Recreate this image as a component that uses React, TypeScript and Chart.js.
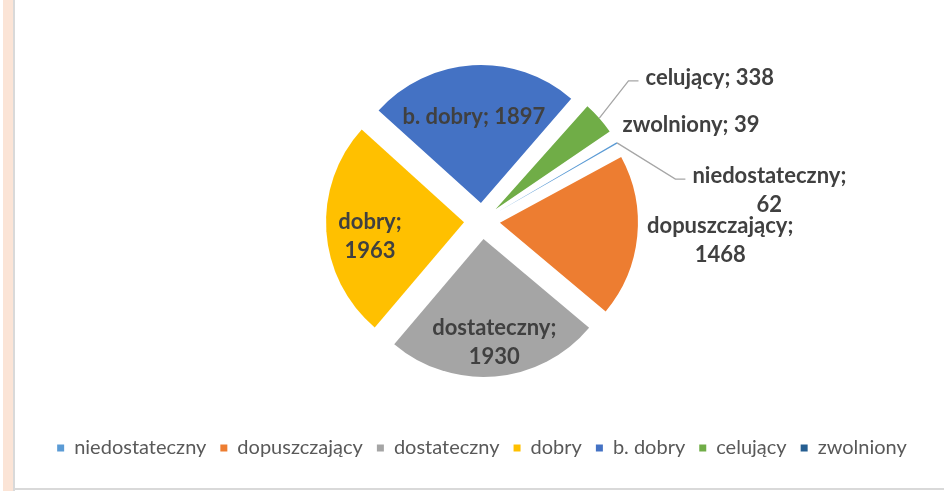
import React, { useEffect, useRef } from 'react';
import { Chart, registerables } from 'chart.js';

Chart.register(...registerables);

// ---- data ----
const categories = ['niedostateczny', 'dopuszczający', 'dostateczny', 'dobry', 'b. dobry', 'celujący', 'zwolniony'];
const counts = [62, 1468, 1930, 1963, 1897, 338, 39];

// ---- styles ----
const sliceColors = ['#5B9BD5', '#ED7D31', '#A5A5A5', '#FFC000', '#4472C4', '#70AD47', '#255E91'];
const PIE_RADIUS = 138;
const EXPLODE_PX = 18; // visible slice displacement
const ARC_OFFSET = EXPLODE_PX * 4; // chart.js translates arcs by offset / 4

// label placement relative to each slice: distance from the pie centre in outer-radius units,
// angular shift (deg) from the slice mid-angle, wrapping and leader line
const labelLayout = [
  { dist: 2.094, shift: 24, wrap: true, leader: true },
  { dist: 1.732, shift: -1, wrap: true, leader: false },
  { dist: 0.881, shift: -1, wrap: true, leader: false },
  { dist: 0.819, shift: -3.9, wrap: true, leader: false },
  { dist: 0.756, shift: -1, wrap: false, leader: false },
  { dist: 1.949, shift: 9.1, wrap: false, leader: true },
  { dist: 1.667, shift: 7.7, wrap: false, leader: false },
];

// keep every exploded slice at the same radius (chart.js enlarges thin slices by the offset)
const equalRadiusPlugin = {
  id: 'equalRadius',
  beforeDatasetsDraw(chart: any) {
    const meta = chart.getDatasetMeta(0);
    meta.data.forEach((arc: any) => {
      const off = (arc.options.offset || 0) / 4;
      const fix = 1 - Math.sin(Math.min(Math.PI, arc.circumference || 0));
      arc.outerRadius = PIE_RADIUS - off * fix;
    });
  },
};

const sliceLabelPlugin = {
  id: 'sliceLabels',
  afterDatasetsDraw(chart: any) {
    const ctx = chart.ctx as CanvasRenderingContext2D;
    const meta = chart.getDatasetMeta(0);
    ctx.save();
    ctx.font = 'bold 22px Lato';
    ctx.fillStyle = '#404040';
    ctx.textAlign = 'center';
    ctx.textBaseline = 'middle';
    const lh = 29;
    meta.data.forEach((arc: any, i: number) => {
      const { x, y, startAngle, endAngle } = arc.getProps(['x', 'y', 'startAngle', 'endAngle'], true);
      const mid = (startAngle + endAngle) / 2;
      const lay = labelLayout[i];
      const a = mid + (lay.shift * Math.PI) / 180;
      const d = lay.dist * PIE_RADIUS;
      const cx = x + Math.cos(a) * d;
      const cy = y + Math.sin(a) * d;
      const lines = lay.wrap ? [`${categories[i]};`, `${counts[i]}`] : [`${categories[i]}; ${counts[i]}`];
      const top = cy - ((lines.length - 1) * lh) / 2;
      lines.forEach((t, k) => ctx.fillText(t, cx, top + k * lh));
      if (lay.leader) {
        const sx = x + Math.cos(mid) * (PIE_RADIUS + EXPLODE_PX);
        const sy = y + Math.sin(mid) * (PIE_RADIUS + EXPLODE_PX);
        const w = ctx.measureText(lines[0]).width;
        const left = cx - w / 2;
        const ly = top + 3;
        ctx.strokeStyle = '#A6A6A6';
        ctx.lineWidth = 1.3;
        ctx.beginPath();
        ctx.moveTo(sx, sy);
        ctx.lineTo(left - 17, ly);
        ctx.lineTo(left - 7, ly);
        ctx.stroke();
      }
    });
    ctx.restore();
  },
};

function PieChart() {
  const ref = useRef<HTMLCanvasElement | null>(null);
  useEffect(() => {
    if (!ref.current) return;
    const chart = new Chart(ref.current, {
      type: 'pie',
      data: {
        labels: categories,
        datasets: [
          {
            data: counts,
            backgroundColor: sliceColors,
            borderWidth: 0,
            offset: ARC_OFFSET,
            clip: false,
          } as any,
        ],
      },
      options: {
        responsive: false,
        animation: false,
        events: [],
        rotation: 58.5,
        radius: PIE_RADIUS,
        layout: { padding: { left: 5, right: 0, top: 18, bottom: 20 } },
        plugins: {
          tooltip: { enabled: false },
          legend: {
            position: 'bottom',
            labels: {
              boxWidth: 7,
              boxHeight: 7,
              padding: 14,
              color: '#595959',
              font: { family: 'Lato', size: 20 },
            },
          },
        },
      } as any,
      plugins: [equalRadiusPlugin, sliceLabelPlugin],
    });
    return () => chart.destroy();
  }, []);
  return <canvas ref={ref} width={929} height={488} style={{ display: 'block' }} />;
}

export default function App() {
  return (
    <div style={{ position: 'fixed', left: 0, top: 0, width: 944, height: 491, background: '#fff', overflow: 'hidden' }}>
      <div style={{ position: 'absolute', left: 3, top: 0, width: 10, height: 491, background: '#FBE4D6' }} />
      <div style={{ position: 'absolute', left: 13, top: 0, width: 2, height: 491, background: '#D9D9D9' }} />
      <div style={{ position: 'absolute', left: 14, top: 488, width: 930, height: 2, background: '#D9D9D9' }} />
      <div style={{ position: 'absolute', left: 15, top: 0, width: 929, height: 488 }}>
        <PieChart />
      </div>
    </div>
  );
}
